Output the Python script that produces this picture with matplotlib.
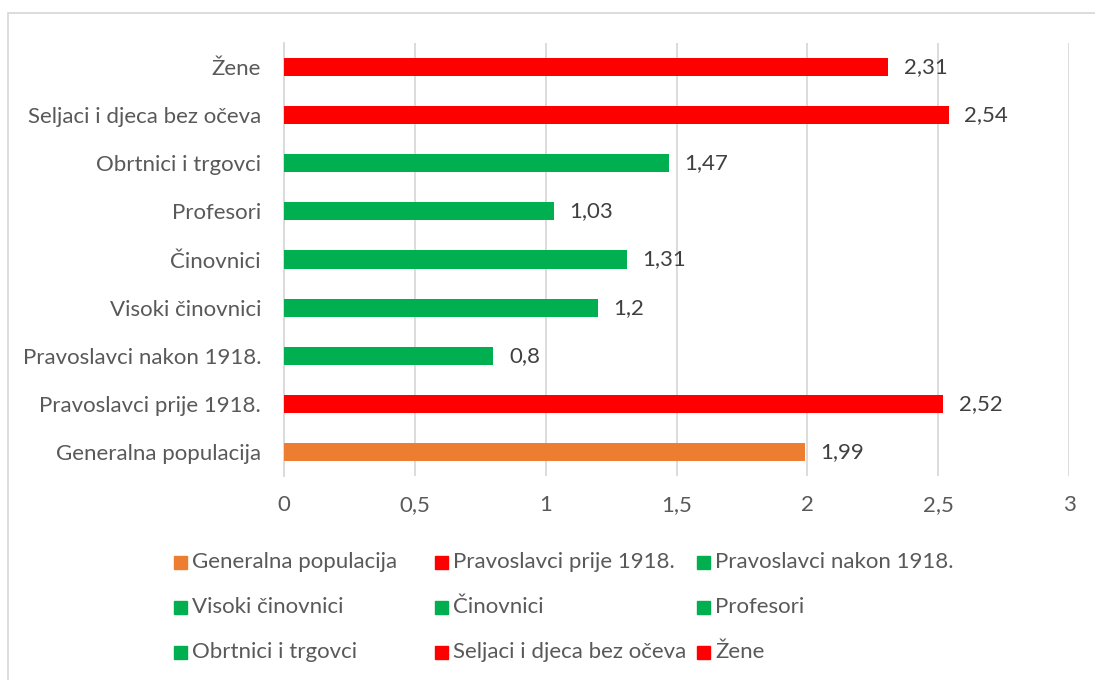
import matplotlib
matplotlib.use("Agg")
import matplotlib.pyplot as plt
from matplotlib.patches import Rectangle
from matplotlib.ticker import FuncFormatter

categories = ["Generalna populacija", "Pravoslavci prije 1918.", "Pravoslavci nakon 1918.",
              "Visoki činovnici", "Činovnici", "Profesori", "Obrtnici i trgovci",
              "Seljaci i djeca bez očeva", "Žene"]
values = [1.99, 2.52, 0.8, 1.2, 1.31, 1.03, 1.47, 2.54, 2.31]
colors = ["#ED7D31", "#FF0000", "#00B050", "#00B050", "#00B050", "#00B050", "#00B050",
          "#FF0000", "#FF0000"]
xticks = [0, 0.5, 1, 1.5, 2, 2.5, 3]

plt.rcParams['font.family'] = ['Lato', 'DejaVu Sans']
text_color = "#595959"
FS = 16

W, H = 1095, 680
fig = plt.figure(figsize=(W / 100, H / 100), dpi=100)
ax = fig.add_axes([284 / W, 1 - 476 / H, (1069 - 284) / W, (476 - 43) / H])

def fmt(v):
    return ("%g" % v).replace(".", ",")

ypos = list(range(len(categories)))
ax.barh(ypos, values, height=0.375, color=colors, zorder=3)
for y, v in zip(ypos, values):
    ax.text(v + 0.06, y, fmt(v), va="center", ha="left", fontsize=FS, color="#404040")

ax.set_ylim(-0.5, len(categories) - 0.5)
ax.set_xlim(0, 3)
ax.set_xticks(xticks)
ax.xaxis.set_major_formatter(FuncFormatter(lambda v, p: fmt(v)))
ax.set_yticks(ypos)
ax.set_yticklabels(categories)
ax.tick_params(axis="both", length=0, labelsize=FS, labelcolor=text_color)
ax.tick_params(axis="y", pad=16.5)
ax.tick_params(axis="x", pad=14)
ax.grid(axis="x", color="#D9D9D9", linewidth=1.3, zorder=0)
for s in ["top", "right", "bottom"]:
    ax.spines[s].set_visible(False)
ax.spines["left"].set_color("#D9D9D9")
ax.spines["left"].set_linewidth(1.3)

# legend (Excel style, row-major, equal columns)
col_x = [174, 435, 697]
row_y = [562, 607, 652]
for i, (lab, c) in enumerate(zip(categories, colors)):
    r, k = divmod(i, 3)
    x0, yc = col_x[k], row_y[r]
    fig.patches.append(Rectangle((x0 / W, 1 - (yc + 6.5) / H), 13 / W, 13 / H,
                                 transform=fig.transFigure, color=c, figure=fig))
    fig.text((x0 + 18) / W, 1 - yc / H, lab, va="center", ha="left",
             fontsize=FS, color=text_color)

# chart border
fig.patches.append(Rectangle((8 / W, -0.05), 1.2, 1 - 13 / H + 0.05, transform=fig.transFigure,
                             fill=False, edgecolor="#D9D9D9", linewidth=1.3, figure=fig))

fig.savefig("out.png", dpi=100)
